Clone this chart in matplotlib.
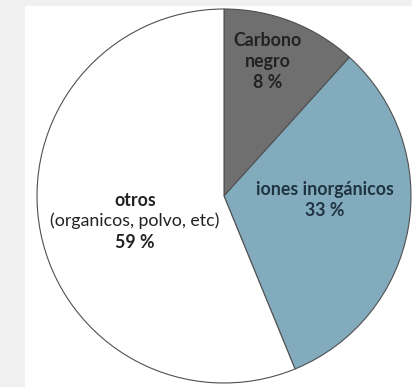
import matplotlib
matplotlib.use('Agg')
import matplotlib.pyplot as plt
from matplotlib.patches import Rectangle

# wedge sizes as drawn (the drawing is not exactly to the printed %)
categories = ['Carbono negro', 'iones inorgánicos', 'otros']
sizes = [11.7, 32.1, 56.2]
pct_labels = ['8 %', '33 %', '59 %']
colors = ['#6f6f6f', '#83abbe', '#ffffff']

plt.rcParams['font.family'] = ['Lato', 'DejaVu Sans']

W, H = 412, 387
fig = plt.figure(figsize=(W / 100, H / 100), dpi=100, facecolor='#f0f0f0')

# white panel behind the pie
fig.patches.append(Rectangle((25 / W, 0), 1 - 25 / W, (H - 6) / H,
                             transform=fig.transFigure, facecolor='white',
                             edgecolor='none', zorder=-10))

cx, cy, r = 224, 196, 187
ax = fig.add_axes([(cx - r) / W, (H - cy - r) / H, 2 * r / W, 2 * r / H])
ax.axis('off')
ax.patch.set_alpha(0)

ax.pie(sizes, colors=colors, startangle=90, counterclock=False, radius=1,
       wedgeprops=dict(edgecolor='#505050', linewidth=0.8))
ax.set_xlim(-1, 1)
ax.set_ylim(-1, 1)


def put(px, py, s, weight='bold', color='#222222'):
    ax.text((px - cx) / r, (cy - py) / r, s, ha='center', va='center',
            fontsize=12.8, fontweight=weight, color=color)


put(268, 40, 'Carbono')
put(268, 61, 'negro')
put(268, 82, pct_labels[0])

put(325, 190, categories[1], color='#1f3440')
put(325, 211, pct_labels[1], color='#1f3440')

put(135, 200, categories[2])
put(135, 221, '(organicos, polvo, etc)', weight='normal')
put(135, 242, pct_labels[2])

fig.savefig('out.png', dpi=100, facecolor=fig.get_facecolor())
